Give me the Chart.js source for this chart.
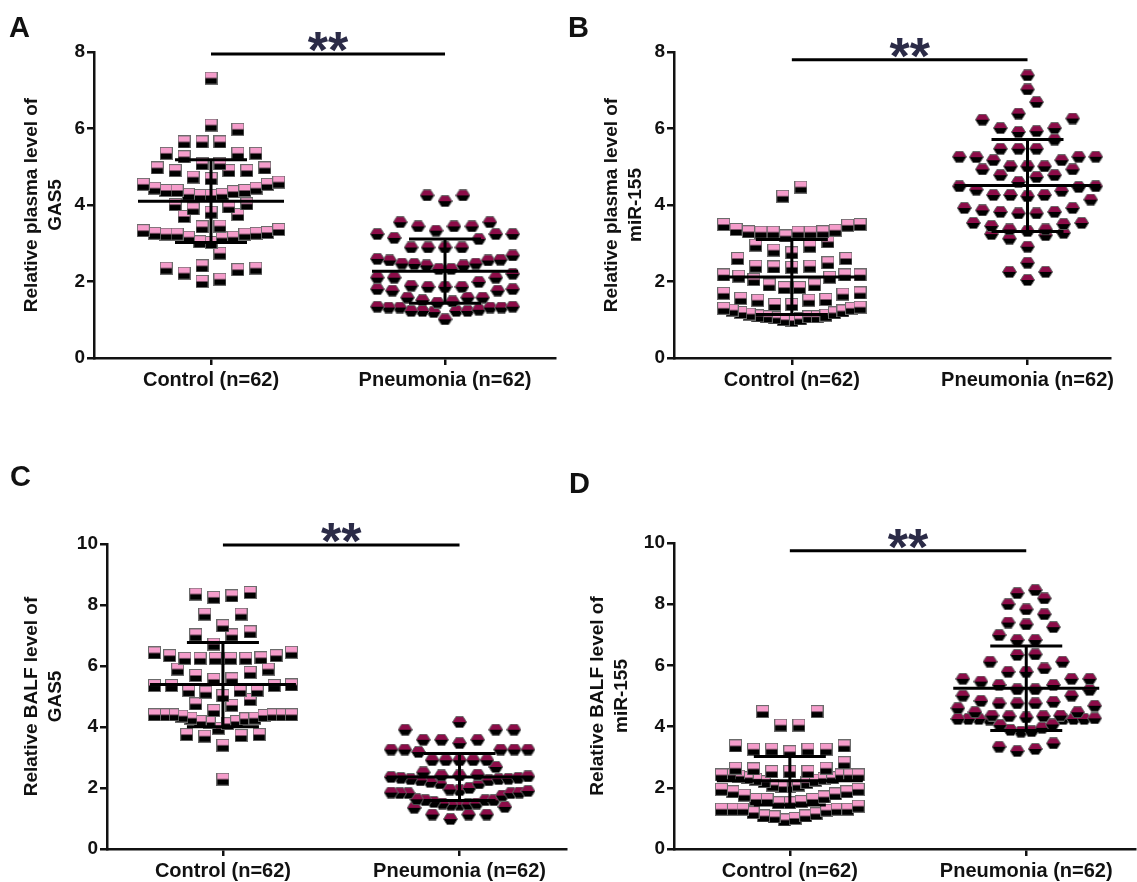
<!DOCTYPE html>
<html>
<head>
<meta charset="utf-8">
<script src="https://cdn.jsdelivr.net/npm/chart.js@4.4.1/dist/chart.umd.min.js"></script>
<style>
  html, body { margin: 0; padding: 0; background: #fff; }
  #wrap { position: relative; width: 1137px; height: 882px; overflow: hidden; }
  #wrap canvas { position: absolute; }
</style>
</head>
<body>
<div id="wrap">
  <canvas id="chartA"></canvas>
  <canvas id="chartB"></canvas>
  <canvas id="chartC"></canvas>
  <canvas id="chartD"></canvas>
</div>
<script>
// ---- data ----
const categories = ["Control (n=62)", "Pneumonia (n=62)"];
const panelLetters = ["A", "B", "C", "D"];
const yTitles = [
  ["Relative plasma level of", "GAS5"],
  ["Relative plasma level of", "miR-155"],
  ["Relative BALF level of", "GAS5"],
  ["Relative BALF level of", "miR-155"],
];
const yMaxes = [8, 8, 10, 10];
const yTickValues = [
  [0, 2, 4, 6, 8],
  [0, 2, 4, 6, 8],
  [0, 2, 4, 6, 8, 10],
  [0, 2, 4, 6, 8, 10],
];

// A: plasma GAS5
const plasmaGas5Control = [
  7.32, 6.09, 5.98, 5.65, 5.65, 5.65, 5.35, 5.26, 5.35, 5.35,
  5.08, 4.97, 4.9, 4.9, 4.9, 4.97, 5.08, 4.73,
  4.69, 4.54, 4.44, 4.38, 4.38, 4.28, 4.25, 4.25, 4.28, 4.35, 4.38, 4.44, 4.54, 4.6,
  4.03, 3.95, 3.81, 3.75, 3.9, 4.01, 3.7,
  3.45, 3.33, 3.26, 3.24, 3.24, 3.26, 3.24, 3.28, 3.36, 3.43,
  3.16, 3.14, 3.16, 3.04, 3.02, 2.74,
  2.41, 2.35, 2.22, 2.0, 2.06, 2.31, 2.35,
];
const plasmaGas5Pneumonia = [
  4.25, 4.1, 4.25,
  3.55, 3.44, 3.44, 3.24, 3.24, 3.14, 3.11, 3.24, 3.33, 3.44, 3.55,
  2.89, 2.89, 2.89, 2.89,
  2.59, 2.55, 2.57, 2.55, 2.68,
  2.47, 2.42, 2.33, 2.2, 2.1, 1.99, 2.1, 2.1, 2.33, 2.42, 2.46, 2.47,
  1.89, 1.86, 1.8, 1.76, 1.76, 1.8, 1.86, 1.86,
  1.58, 1.58, 1.51, 1.58,
  1.48, 1.34, 1.32, 1.32, 1.23, 1.23, 1.23, 1.01, 1.2, 1.23, 1.26, 1.32, 1.32, 1.34, 1.45,
];

// B: plasma miR-155
const plasmaMir155Control = [
  4.47, 4.23,
  3.47, 3.34, 3.3, 3.29, 3.29, 3.19, 3.29, 3.29, 3.3, 3.36, 3.49, 3.49,
  2.92, 2.82, 2.6, 2.6, 2.75, 2.95, 3.04,
  2.49, 2.38, 2.37, 2.17, 2.14, 2.05, 2.11, 2.17, 2.17, 2.4, 2.4,
  1.91, 1.84, 1.69, 1.56, 1.53, 1.67, 1.7, 1.84, 1.91,
  1.51, 1.4, 1.3, 1.25, 1.19, 1.18, 1.08, 1.08, 1.08, 1.15, 1.23, 1.3, 1.33, 1.4, 1.51,
  0.98, 1.0, 1.02, 1.05, 1.1, 1.12,
];
const plasmaMir155Pneumonia = [
  7.39, 7.02, 6.69, 6.26, 6.23, 6.39,
  5.91, 6.01, 6.01, 5.93, 5.71, 5.47, 5.47, 5.47,
  5.26, 5.25, 5.17, 5.01, 4.93, 4.93, 5.01, 5.01, 5.17, 5.26, 5.26,
  4.78, 4.78, 4.73,
  4.6, 4.37, 4.47, 4.4, 4.49, 4.49,
  4.26, 4.23, 4.14, 4.26, 4.26,
  3.86, 3.82, 3.78, 3.92, 3.92, 3.78, 3.82,
  3.53, 3.45, 3.5, 3.53,
  3.36, 3.32, 3.24, 3.12, 3.21, 3.27, 3.36,
  2.91, 2.49, 2.25, 2.25, 2.04,
];

// C: BALF GAS5
const balfGas5Control = [
  8.41, 8.3, 8.25, 8.36, 7.7, 7.7, 7.32, 7.12, 7.02, 7.02, 6.72,
  6.45, 6.34, 6.25, 6.25, 6.25, 6.25, 6.25, 6.27, 6.34, 6.43,
  5.9, 5.69, 5.56, 5.36, 5.36, 5.36, 5.38, 5.58, 5.79, 5.9,
  5.2, 5.2, 5.2, 5.03, 4.76, 4.9, 5.14, 4.54, 4.71,
  4.4, 4.4, 4.36, 4.29, 4.27, 4.4, 4.18, 4.11, 4.15, 4.18, 4.29, 4.38, 4.4, 4.4, 4.4,
  3.96, 3.72, 3.7, 3.75, 3.75, 3.4, 2.29,
];
const balfGas5Pneumonia = [
  4.16, 3.91, 3.91, 3.91,
  3.58, 3.58, 3.58, 3.47,
  3.26, 3.26, 3.26, 3.18, 3.26, 3.26,
  2.91, 2.91, 2.91, 2.91, 2.91, 2.69,
  2.36, 2.29, 2.25, 2.15, 2.44, 2.41, 2.41, 2.51, 2.15, 2.25, 2.29, 2.33, 2.33,
  2.0, 1.85, 1.83, 1.83, 1.83, 1.85, 1.93,
  1.63, 1.49, 1.46, 1.45, 1.35, 1.6, 1.6, 1.38, 1.45, 1.49, 1.54, 1.6,
  1.13, 0.98, 1.13, 1.13,
  2.38, 2.2, 2.3, 1.9, 1.95, 1.75,
];

// D: BALF miR-155
const balfMir155Control = [
  4.49, 4.49, 4.05, 4.05,
  3.37, 3.26, 3.26, 3.18, 3.26, 3.26, 3.37, 2.82, 2.64,
  2.64, 2.53, 2.42, 2.42, 2.42, 2.31, 2.33, 2.33, 2.38, 2.42, 2.42, 2.53, 2.53, 2.62,
  2.28, 2.17, 2.09, 2.04, 1.95, 1.87, 1.76, 1.87, 1.95, 2.04, 2.09, 2.2, 2.25,
  1.62, 1.62, 1.51, 1.3, 1.3, 1.3, 1.19, 1.08, 1.08, 1.27, 1.3, 1.3, 1.51, 1.55, 1.62,
  0.95, 1.0, 1.05, 1.15, 1.4, 1.7, 1.8,
];
const balfMir155Pneumonia = [
  8.46, 8.36, 8.19, 8.0, 7.67, 7.83, 7.4, 7.25, 7.34,
  6.83, 6.83, 6.99, 6.34, 6.36, 6.12, 6.12, 5.9,
  5.79, 5.56, 5.47, 5.36, 5.2, 5.22, 5.22, 5.36, 5.56, 5.56, 5.79,
  5.01, 4.84, 4.76, 4.76, 4.68, 4.76, 4.81, 5.01,
  4.6, 4.47, 4.47,
  4.36, 4.34, 4.25, 4.25, 4.23, 4.25, 4.07, 3.96, 4.05, 4.25, 4.25, 4.25, 4.27, 4.34, 4.36,
  3.83, 3.89, 3.85, 3.34, 3.2, 3.27, 3.45, 4.3,
];

const groupMeans = [[4.1, 2.27], [2.12, 4.51], [5.39, 2.36], [2.23, 5.25]];
const groupSDs = [[1.08, 0.84], [0.98, 1.2], [1.38, 0.77], [0.79, 1.38]];
const sigLevels = [7.95, 7.8, 9.97, 9.75];
const sigLabel = "**";

const panelData = [
  [plasmaGas5Control, plasmaGas5Pneumonia],
  [plasmaMir155Control, plasmaMir155Pneumonia],
  [balfGas5Control, balfGas5Pneumonia],
  [balfMir155Control, balfMir155Pneumonia],
];

// ---- layout ----
const panels = [
  { id: "chartA", left: 0, top: 0, w: 568, h: 441, area: { l: 94, r: 555, t: 52, b: 358 }, xMin: -0.5, xMax: 1.47, titlePad: 20, letter: [9, 37] },
  { id: "chartB", left: 568, top: 0, w: 569, h: 441, area: { l: 106, r: 542, t: 52, b: 358 }, xMin: -0.5, xMax: 1.35, titlePad: 32, letter: [0, 37] },
  { id: "chartC", left: 0, top: 441, w: 568, h: 441, area: { l: 107, r: 566, t: 103, b: 408 }, xMin: -0.49, xMax: 1.45, titlePad: 20, letter: [10, 45] },
  { id: "chartD", left: 568, top: 441, w: 569, h: 441, area: { l: 106, r: 567, t: 102, b: 408 }, xMin: -0.49, xMax: 1.46, titlePad: 18, letter: [1, 52] },
];
const INK = "#111";
const FONT = "'Liberation Sans', Arial, sans-serif";
const X_PX = 235;        // px per category unit
const STEP_PX = 18;      // gap between neighbours in a row
const HALF_SPREAD = 68;  // widest half-row
const ROW_PX = 14;       // row height

// markers: pink square over black, maroon hexagon over black
function makeSquare() {
  const c = document.createElement("canvas");
  c.width = 13; c.height = 13;
  const g = c.getContext("2d");
  g.fillStyle = "#000"; g.fillRect(0.5, 0.5, 12, 12);
  g.fillStyle = "#f59dcb"; g.fillRect(0.5, 0.5, 12, 6);
  g.strokeStyle = "#6b6b6b"; g.lineWidth = 1; g.strokeRect(0.5, 0.5, 12, 12);
  return c;
}
function makeHex() {
  const c = document.createElement("canvas");
  c.width = 15; c.height = 12;
  const g = c.getContext("2d");
  const pts = [[0.5, 6], [4, 0.5], [11, 0.5], [14.5, 6], [11, 11.5], [4, 11.5]];
  g.beginPath();
  pts.forEach((p, i) => (i ? g.lineTo(p[0], p[1]) : g.moveTo(p[0], p[1])));
  g.closePath();
  g.fillStyle = "#000"; g.fill();
  g.save(); g.clip();
  g.fillStyle = "#8c0c48"; g.fillRect(0, 0, 15, 6);
  g.restore();
  g.strokeStyle = "#6b6b6b"; g.lineWidth = 1; g.stroke();
  return c;
}
const squareImg = makeSquare();
const hexImg = makeHex();

// simple row-based swarm: lowest value of a row in the middle, higher ones outward
function swarm(values, center, rowSize) {
  const sorted = values.slice().sort((a, b) => a - b);
  const rows = [];
  let row = null;
  for (const v of sorted) {
    if (!row || v - row[0] >= rowSize) { row = [v]; rows.push(row); }
    else row.push(v);
  }
  const out = [];
  rows.forEach(r => {
    const n = r.length;
    const step = n > 1 ? Math.min(STEP_PX, (2 * HALF_SPREAD) / (n - 1)) : 0;
    r.forEach((v, i) => {
      let slot;
      if (n % 2) slot = i === 0 ? 0 : (i % 2 ? -(i + 1) / 2 : i / 2);
      else slot = (i % 2 ? 1 : -1) * (Math.floor(i / 2) + 0.5);
      out.push({ x: center + (slot * step) / X_PX, y: v });
    });
  });
  return out;
}

const overlayPlugin = {
  id: "overlay",
  afterDatasetsDraw(chart, args, o) {
    const { ctx } = chart;
    const x = chart.scales.x, y = chart.scales.y;
    ctx.save();
    ctx.strokeStyle = "#000";
    ctx.lineWidth = 3;
    ctx.lineCap = "butt";
    o.means.forEach((m, i) => {
      const cx = x.getPixelForValue(i);
      const ym = y.getPixelForValue(m);
      const yt = y.getPixelForValue(m + o.sds[i]);
      const yb = y.getPixelForValue(m - o.sds[i]);
      ctx.beginPath();
      ctx.moveTo(cx - 73, ym); ctx.lineTo(cx + 73, ym);
      ctx.moveTo(cx - 36, yt); ctx.lineTo(cx + 36, yt);
      ctx.moveTo(cx - 36, yb); ctx.lineTo(cx + 36, yb);
      ctx.moveTo(cx, yt); ctx.lineTo(cx, yb);
      ctx.stroke();
    });
    // significance bar and stars
    const sy = y.getPixelForValue(o.sig);
    const x0 = x.getPixelForValue(0), x1 = x.getPixelForValue(1);
    ctx.beginPath(); ctx.moveTo(x0, sy); ctx.lineTo(x1, sy); ctx.stroke();
    ctx.font = "bold 52px " + FONT;
    ctx.fillStyle = "#2b2b47";
    ctx.textAlign = "center";
    ctx.textBaseline = "alphabetic";
    const m = ctx.measureText(sigLabel);
    const cy = sy - 12;
    ctx.fillText(sigLabel, (x0 + x1) / 2, cy + (m.actualBoundingBoxAscent - m.actualBoundingBoxDescent) / 2);
    // panel letter
    ctx.font = "bold 29px " + FONT;
    ctx.fillStyle = INK;
    ctx.textAlign = "left";
    ctx.fillText(o.letter, o.letterXY[0], o.letterXY[1]);
    ctx.restore();
  },
};

panels.forEach((p, k) => {
  const el = document.getElementById(p.id);
  el.width = p.w; el.height = p.h;
  el.style.left = p.left + "px"; el.style.top = p.top + "px";
  el.style.width = p.w + "px"; el.style.height = p.h + "px";

  const rowSize = ROW_PX / ((p.area.b - p.area.t) / yMaxes[k]);
  const [ctrl, pneu] = panelData[k];

  new Chart(el.getContext("2d"), {
    type: "scatter",
    data: {
      datasets: [
        { data: swarm(ctrl, 0, rowSize), pointStyle: squareImg, pointRadius: 6, pointHoverRadius: 6 },
        { data: swarm(pneu, 1, rowSize), pointStyle: hexImg, pointRadius: 6, pointHoverRadius: 6 },
      ],
    },
    options: {
      responsive: false,
      animation: false,
      events: [],
      layout: {
        autoPadding: false,
        padding: { top: p.area.t, right: p.w - p.area.r, left: 0, bottom: 0 },
      },
      plugins: {
        legend: { display: false },
        tooltip: { enabled: false },
        overlay: {
          means: groupMeans[k], sds: groupSDs[k], sig: sigLevels[k],
          letter: panelLetters[k], letterXY: p.letter,
        },
      },
      scales: {
        x: {
          type: "linear",
          min: p.xMin,
          max: p.xMax,
          afterBuildTicks: s => { s.ticks = [{ value: 0 }, { value: 1 }]; },
          afterFit: s => { s.height = p.h - p.area.b; },
          grid: { display: true, drawOnChartArea: false, tickLength: 7, tickWidth: 2.5, lineWidth: 2.5, color: INK },
          border: { display: true, color: INK, width: 2.5 },
          ticks: {
            autoSkip: false, maxRotation: 0, padding: 3, color: INK,
            font: { family: FONT, size: 20, weight: "bold" },
            callback: v => categories[v],
          },
        },
        y: {
          min: 0,
          max: yMaxes[k],
          afterBuildTicks: s => { s.ticks = yTickValues[k].map(v => ({ value: v })); },
          afterFit: s => { s.width = p.area.l; },
          grid: { display: true, drawOnChartArea: false, tickLength: 7, tickWidth: 2.5, lineWidth: 2.5, color: INK },
          border: { display: true, color: INK, width: 2.5 },
          ticks: { padding: 2, color: INK, font: { family: FONT, size: 19, weight: "bold" } },
          title: {
            display: true,
            text: yTitles[k],
            color: INK,
            font: { family: FONT, size: 19, weight: "bold", lineHeight: 1.26 },
            padding: { top: p.titlePad, bottom: 0 },
          },
        },
      },
    },
    plugins: [overlayPlugin],
  });
});
</script>
</body>
</html>
